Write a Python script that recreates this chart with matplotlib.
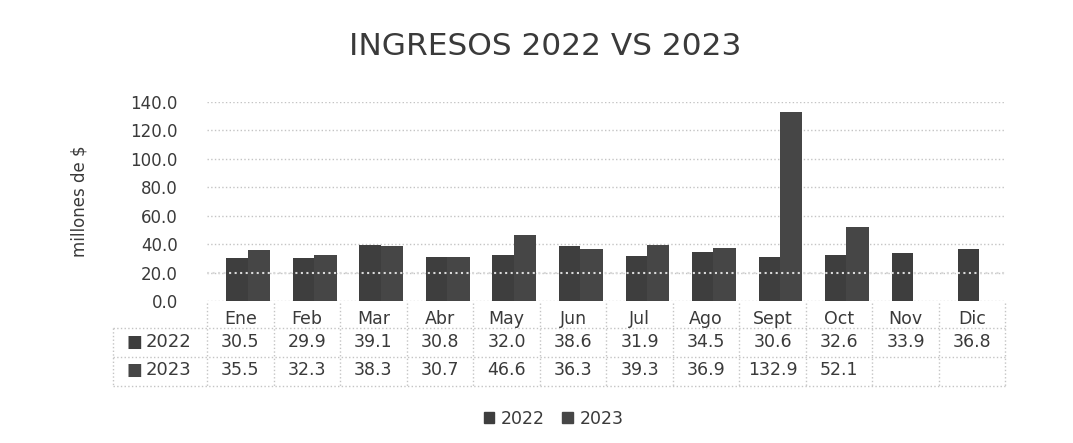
import numpy as np
import matplotlib
matplotlib.use("Agg")
import matplotlib.pyplot as plt
from matplotlib.patches import Patch

meses = ['Ene', 'Feb', 'Mar', 'Abr', 'May', 'Jun', 'Jul', 'Ago', 'Sept', 'Oct', 'Nov', 'Dic']
v2022 = [30.5, 29.9, 39.1, 30.8, 32.0, 38.6, 31.9, 34.5, 30.6, 32.6, 33.9, 36.8]
v2023 = [35.5, 32.3, 38.3, 30.7, 46.6, 36.3, 39.3, 36.9, 132.9, 52.1, None, None]
series = ['2022', '2023']
yticks = [0, 20, 40, 60, 80, 100, 120, 140]

col22 = '#3e3e3e'
col23 = '#464646'
txt = '#3a3a3a'
grid = '#c4c4c4'

plt.rcParams['font.family'] = ['DejaVu Sans']

fig = plt.figure(figsize=(10.73, 4.43), dpi=100)
ax = fig.add_axes([0.193, 0.3205, 0.744, 0.450])

x = np.arange(len(meses))
y23 = [np.nan if v is None else v for v in v2023]
ax.bar(x - 0.05, v2022, width=0.32, color=col22, zorder=3)
ax.bar(x + 0.28, y23, width=0.34, color=col23, zorder=3)

ax.set_xlim(-0.5, len(meses) - 0.5)
ax.set_ylim(0, 140)
ax.set_yticks(yticks)
ax.set_yticklabels(['%.1f' % t for t in yticks], fontsize=12, color=txt)
ax.yaxis.grid(True, linestyle=':', color=grid, linewidth=1, zorder=0)
# la linea de 20 se ve encima de las columnas en el original
ax.axhline(20, linestyle=':', color='#dadada', linewidth=1.5, zorder=4)
ax.tick_params(length=0, pad=21)
ax.set_xticks([])
for s in ax.spines.values():
    s.set_visible(False)
ax.set_ylabel('millones de $', fontsize=12, color=txt)
ax.yaxis.set_label_coords(-0.149, 0.5)

# tabla de datos debajo del eje
trans = ax.get_xaxis_transform()
y_mes, y_r1, y_r2 = -0.090, -0.206, -0.346
for i, m in enumerate(meses):
    ax.text(i, y_mes, m, transform=trans, ha='center', va='center', fontsize=12.5, color=txt)
    ax.text(i, y_r1, '%.1f' % v2022[i], transform=trans, ha='center', va='center', fontsize=12.5, color=txt)
    if v2023[i] is not None:
        ax.text(i, y_r2, '%.1f' % v2023[i], transform=trans, ha='center', va='center', fontsize=12.5, color=txt)

for yy, name, c in [(y_r1, series[0], col22), (y_r2, series[1], col23)]:
    ax.text(-1.60, yy, '\u25a0', transform=trans, ha='center', va='center', fontsize=12, color=c)
    ax.text(-1.42, yy, name, transform=trans, ha='left', va='center', fontsize=13, color=txt)

ls = dict(transform=trans, color=grid, linestyle=':', linewidth=1, clip_on=False)
left = -1.91
for b in np.arange(-0.5, len(meses), 1.0):
    ax.plot([b, b], [-0.01, -0.426], **ls)
ax.plot([left, left], [-0.135, -0.426], **ls)
for yy in [-0.135, -0.281, -0.426]:
    ax.plot([left, len(meses) - 0.5], [yy, yy], **ls)

fig.suptitle('INGRESOS 2022 VS 2023', x=0.508, y=0.894, va='center', fontsize=22.5, color=txt)

handles = [Patch(color=col22, label=series[0]), Patch(color=col23, label=series[1])]
leg = fig.legend(handles=handles, loc='center', bbox_to_anchor=(0.516, 0.054), ncol=2,
                 frameon=False, fontsize=12.5, handlelength=0.6, handleheight=0.6,
                 handletextpad=0.4, columnspacing=1.0)
for t in leg.get_texts():
    t.set_color(txt)

fig.savefig('out.png', dpi=100)
